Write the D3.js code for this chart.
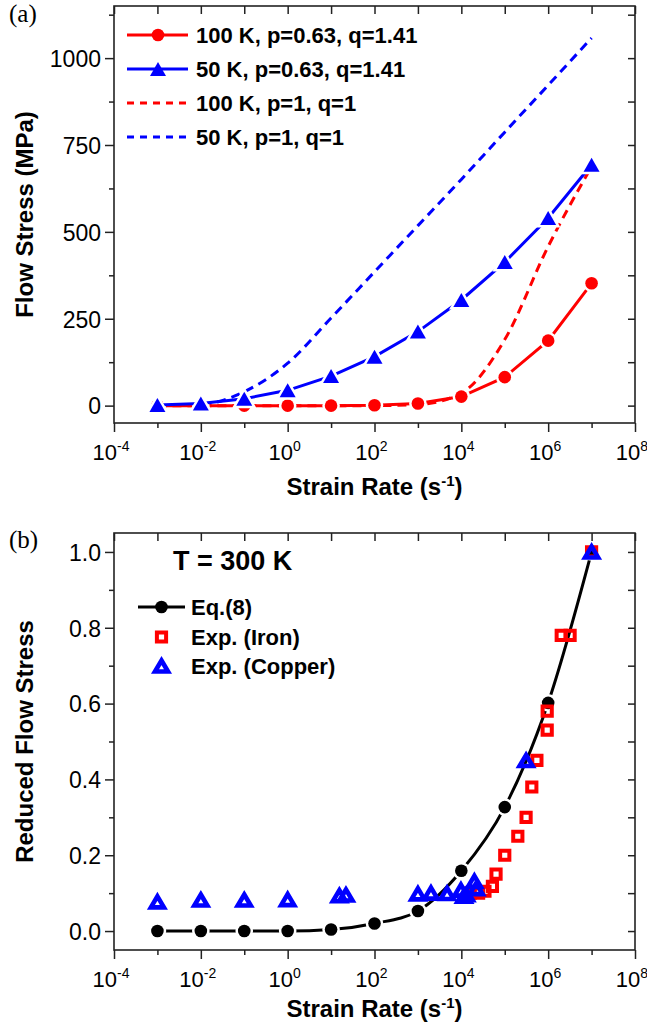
<!DOCTYPE html>
<html>
<head>
<meta charset="utf-8">
<script src="https://cdn.jsdelivr.net/npm/d3@7/dist/d3.min.js"></script>
<style>
body { margin: 0; background: #fff; }
svg text { font-family: "Liberation Sans", Arial, sans-serif; fill: #000; }
</style>
</head>
<body>
<svg id="chart" width="647" height="1028"></svg>
<script>
// strain rates (s^-1) of the model points
var rates = [1e-3, 1e-2, 1e-1, 1e0, 1e1, 1e2, 1e3, 1e4, 1e5, 1e6, 1e7];

// (a) flow stress, MPa
var stress100K    = [0, 0, 0, 0, 0, 1, 6, 26, 82, 187, 352];
var stress50K     = [2, 6, 20, 44, 85, 141, 213, 304, 413, 540, 693];
var stress100Kpq1 = [0, 0, 0, 0, 0, 0, 3, 36, 190, 458, 688];
var stress50Kpq1  = [0, 3, 40, 122, 252, 385, 518, 651, 787, 922, 1058];

// (b) reduced flow stress
var eq8 = [0, 0, 0, 0, 0.004, 0.02, 0.053, 0.159, 0.327, 0.602, 1.0];
var ironRate   = [1.6e4, 2.5e4, 3.5e4, 5.2e4, 6.3e4, 1.0e5, 2.0e5, 3.1e5, 4.2e5, 5.5e5, 9.5e5, 9.5e5, 2.0e6, 3.2e6, 1e7];
var ironStress = [0.10, 0.10, 0.105, 0.118, 0.15, 0.20, 0.25, 0.30, 0.38, 0.45, 0.53, 0.58, 0.78, 0.78, 1.0];
var copperRate   = [1e-3, 1e-2, 1e-1, 1, 15.5, 22, 1e3, 2e3, 4.7e3, 9.8e3, 1.15e4, 1.3e4, 2e4, 2.2e4, 3.1e5, 1e7];
var copperStress = [0.077, 0.082, 0.082, 0.083, 0.093, 0.095, 0.098, 0.10, 0.099, 0.108, 0.092, 0.096, 0.131, 0.112, 0.45, 1.0];

var legendA = ["100 K, p=0.63, q=1.41", "50 K, p=0.63, q=1.41", "100 K, p=1, q=1", "50 K, p=1, q=1"];
var legendB = ["Eq.(8)", "Exp. (Iron)", "Exp. (Copper)"];

var evenDecades = [1e-4, 1e-2, 1e0, 1e2, 1e4, 1e6, 1e8];
var oddDecades = [1e-3, 1e-1, 1e1, 1e3, 1e5, 1e7];

var svg = d3.select("#chart");
var frameX = [114, 635];

function zip(xs, ys) {
    return xs.map(function(v, i) { return { x: v, y: ys[i] }; });
}

function triPath(w, h) {
    return "M0," + (-h / 2) + "L" + (w / 2) + "," + (h / 2) + "L" + (-w / 2) + "," + (h / 2) + "Z";
}

function clean(sel) {
    sel.select(".domain").remove();
    sel.selectAll(".tick line").attr("stroke", "#222").attr("stroke-width", 1.5);
}

function makePanel(top, bottom, yDomain, yMajor, yMinor, yFmt) {
    var x = d3.scaleLog().domain([1e-4, 1e8]).range(frameX);
    var y = d3.scaleLinear().domain(yDomain).range([bottom, top]);
    var g = svg.append("g");

    g.append("g").attr("transform", "translate(" + frameX[0] + ",0)")
      .call(d3.axisLeft(y).tickValues(yMajor).tickSize(9).tickPadding(4).tickFormat(yFmt))
      .call(clean)
      .selectAll("text").style("font-size", "23px").attr("dy", "0.36em");
    g.append("g").attr("transform", "translate(" + frameX[0] + ",0)")
      .call(d3.axisLeft(y).tickValues(yMinor).tickSize(5).tickFormat(""))
      .call(clean);
    g.append("g").attr("transform", "translate(" + frameX[1] + ",0)")
      .call(d3.axisRight(y).tickValues(yMajor.concat(yMinor)).tickSize(-7).tickFormat(""))
      .call(clean);

    g.append("g").attr("transform", "translate(0," + bottom + ")")
      .call(d3.axisBottom(x).tickValues(evenDecades).tickSize(9).tickFormat(""))
      .call(clean);
    g.append("g").attr("transform", "translate(0," + bottom + ")")
      .call(d3.axisBottom(x).tickValues(oddDecades).tickSize(5).tickFormat(""))
      .call(clean);
    g.append("g").attr("transform", "translate(0," + top + ")")
      .call(d3.axisTop(x).tickValues(evenDecades.concat(oddDecades)).tickSize(-8).tickFormat(""))
      .call(clean);

    g.selectAll("text.xlab")
      .data(evenDecades)
      .enter().append("text")
      .attr("class", "xlab")
      .attr("x", function(d) { return x(d) - 3; })
      .attr("y", bottom + 37)
      .attr("text-anchor", "middle")
      .style("font-size", "22px")
      .each(function(d) {
          var t = d3.select(this);
          t.append("tspan").text("10");
          t.append("tspan").attr("dy", -9).style("font-size", "14px")
            .text(String(Math.round(Math.log10(d))));
      });

    g.append("rect")
      .attr("x", frameX[0]).attr("y", top)
      .attr("width", frameX[1] - frameX[0]).attr("height", bottom - top)
      .attr("fill", "none").attr("stroke", "#222").attr("stroke-width", 1.6);

    return { x: x, y: y, g: g, top: top, bottom: bottom };
}

function xTitle(p, baseline) {
    var t = svg.append("text")
      .attr("x", (frameX[0] + frameX[1]) / 2).attr("y", baseline)
      .attr("text-anchor", "middle")
      .style("font-size", "24px").style("font-weight", "bold");
    t.append("tspan").text("Strain Rate (s");
    t.append("tspan").attr("dy", -9).style("font-size", "15px").text("-1");
    t.append("tspan").attr("dy", 9).text(")");
}

function yTitle(p, label) {
    svg.append("text")
      .attr("transform", "translate(33," + ((p.top + p.bottom) / 2) + ") rotate(-90)")
      .attr("text-anchor", "middle")
      .style("font-size", "24px").style("font-weight", "bold")
      .text(label);
}

function drawLine(p, pts, color, dashed, curve) {
    p.g.append("path")
      .datum(pts)
      .attr("fill", "none")
      .attr("stroke", color)
      .attr("stroke-width", 3)
      .attr("stroke-dasharray", dashed ? "9,6" : null)
      .attr("d", d3.line()
        .curve(curve || d3.curveLinear)
        .x(function(d) { return p.x(d.x); })
        .y(function(d) { return p.y(d.y); }));
}

function drawMarkers(p, pts, shape, color, halo, sw) {
    var sel = p.g.append("g").selectAll("path")
      .data(pts).enter();
    if (halo) {
        sel.append("path")
          .attr("d", shape)
          .attr("transform", function(d) { return "translate(" + p.x(d.x) + "," + p.y(d.y) + ")"; })
          .attr("fill", "#fff").attr("stroke", "#fff").attr("stroke-width", 5);
    }
    sel.append("path")
      .attr("d", shape)
      .attr("transform", function(d) { return "translate(" + p.x(d.x) + "," + p.y(d.y) + ")"; })
      .attr("fill", halo ? color : "none")
      .attr("stroke", color)
      .attr("stroke-width", halo ? 0 : sw)
      .attr("stroke-linejoin", "miter");
}

var circlePath = d3.symbol().type(d3.symbolCircle).size(Math.PI * 6.3 * 6.3)();
var triFilled = triPath(16, 14);
var squareHollow = "M-4.6,-4.6H4.6V4.6H-4.6Z";
var triHollow = triPath(13, 11);

// ---------- panel (a)
var pa = makePanel(6, 423, [-50, 1150], [0, 250, 500, 750, 1000], [125, 375, 625, 875, 1125], d3.format("d"));

drawLine(pa, zip(rates, stress100Kpq1), "#ff0000", true, d3.curveMonotoneX);
drawLine(pa, zip(rates, stress50Kpq1), "#0000ff", true, d3.curveMonotoneX);
drawLine(pa, zip(rates, stress100K), "#ff0000", false);
drawMarkers(pa, zip(rates, stress100K), circlePath, "#ff0000", true);
drawLine(pa, zip(rates, stress50K), "#0000ff", false);
drawMarkers(pa, zip(rates, stress50K), triFilled, "#0000ff", true);

xTitle(pa, 495);
yTitle(pa, "Flow Stress (MPa)");

var legA = svg.append("g");
var legAStyles = [
    { color: "#ff0000", dash: null, marker: circlePath },
    { color: "#0000ff", dash: null, marker: triFilled },
    { color: "#ff0000", dash: "7,6", marker: null },
    { color: "#0000ff", dash: "7,6", marker: null }
];
var legAY = [35, 69, 103, 137];
legendA.forEach(function(label, i) {
    var s = legAStyles[i];
    legA.append("line")
      .attr("x1", 127).attr("x2", 188).attr("y1", legAY[i]).attr("y2", legAY[i])
      .attr("stroke", s.color).attr("stroke-width", 3)
      .attr("stroke-dasharray", s.dash);
    if (s.marker) {
        legA.append("path").attr("d", s.marker)
          .attr("transform", "translate(158," + legAY[i] + ")")
          .attr("fill", s.color);
    }
    legA.append("text")
      .attr("x", 196).attr("y", legAY[i]).attr("dy", "0.36em")
      .style("font-size", "22px").style("font-weight", "bold")
      .text(label);
});

svg.append("text").attr("x", 9).attr("y", 22)
  .style("font-family", "'Liberation Serif', 'Times New Roman', serif")
  .style("font-size", "25px").text("(a)");

// ---------- panel (b)
var pb = makePanel(533, 950, [-0.05, 1.05], [0, 0.2, 0.4, 0.6, 0.8, 1.0], [0.1, 0.3, 0.5, 0.7, 0.9], d3.format(".1f"));

drawLine(pb, zip(rates, eq8), "#000", false, d3.curveMonotoneX);
drawMarkers(pb, zip(rates, eq8), circlePath, "#000", true);
drawMarkers(pb, zip(ironRate, ironStress), squareHollow, "#ff0000", false, 4);
drawMarkers(pb, zip(copperRate, copperStress), triHollow, "#0000ff", false, 4.6);

xTitle(pb, 1017);
yTitle(pb, "Reduced Flow Stress");

svg.append("text").attr("x", 173).attr("y", 570)
  .style("font-size", "27px").style("font-weight", "bold")
  .text("T = 300 K");

var legB = svg.append("g");
var legBY = [607, 637, 666];
legB.append("line")
  .attr("x1", 138).attr("x2", 185).attr("y1", legBY[0]).attr("y2", legBY[0])
  .attr("stroke", "#000").attr("stroke-width", 3);
legB.append("path").attr("d", circlePath)
  .attr("transform", "translate(161.5," + legBY[0] + ")").attr("fill", "#000");
legB.append("path").attr("d", squareHollow)
  .attr("transform", "translate(161.5," + legBY[1] + ")")
  .attr("fill", "none").attr("stroke", "#ff0000").attr("stroke-width", 4);
legB.append("path").attr("d", triHollow)
  .attr("transform", "translate(161.5," + legBY[2] + ")")
  .attr("fill", "none").attr("stroke", "#0000ff").attr("stroke-width", 4.6);
legendB.forEach(function(label, i) {
    legB.append("text")
      .attr("x", 191).attr("y", legBY[i]).attr("dy", "0.36em")
      .style("font-size", "22px").style("font-weight", "bold")
      .text(label);
});

svg.append("text").attr("x", 9).attr("y", 548)
  .style("font-family", "'Liberation Serif', 'Times New Roman', serif")
  .style("font-size", "25px").text("(b)");
</script>
</body>
</html>
